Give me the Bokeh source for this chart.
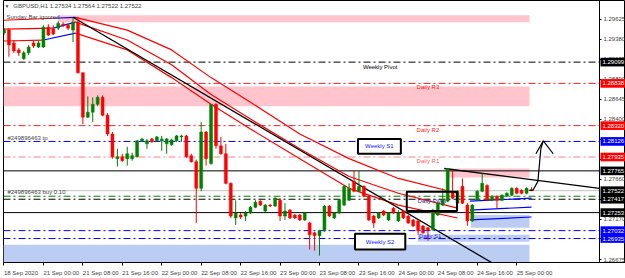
from bokeh.plotting import figure
from bokeh.models import Range1d, FixedTicker, Label, ColumnDataSource, LinearAxis
from bokeh.embed import file_html
from bokeh.resources import INLINE
from bokeh.core.properties import value

# ---------------- data ----------------
opens = [1.29455, 1.29492, 1.29334, 1.29249, 1.29140, 1.29213, 1.29334, 1.29285, 1.29285, 1.29528,
         1.29504, 1.29516, 1.29564, 1.29552, 1.29492, 1.29589, 1.28970, 1.28424, 1.28485, 1.28582,
         1.28667, 1.28448, 1.28218, 1.27915, 1.27939, 1.27915, 1.27915, 1.27939, 1.28133, 1.28097,
         1.28157, 1.28133, 1.28133, 1.28097, 1.28085, 1.28133, 1.28182, 1.28194, 1.27951, 1.27878,
         1.27551, 1.28242, 1.27854, 1.28582, 1.28073, 1.27975, 1.27612, 1.27187, 1.27223, 1.27211,
         1.27248, 1.27320, 1.27393, 1.27272, 1.27345, 1.27333, 1.27405, 1.27211, 1.27284, 1.27223,
         1.27223, 1.27163, 1.27127, 1.27005, 1.26969, 1.27030, 1.27333, 1.27187, 1.27248, 1.27345,
         1.27405, 1.27636, 1.27515, 1.27575, 1.27454, 1.27211, 1.27187, 1.27272, 1.27163, 1.27308,
         1.27151, 1.27272, 1.27211, 1.27163, 1.27151, 1.27090, 1.27066, 1.27042, 1.27223, 1.27345,
         1.27393, 1.27515, 1.27369, 1.27575, 1.27345, 1.27151, 1.27405, 1.27515, 1.27587, 1.27405,
         1.27454, 1.27405, 1.27454, 1.27466, 1.27551, 1.27527, 1.27490, 1.27534]
highs = [1.29516, 1.29516, 1.29370, 1.29273, 1.29237, 1.29310, 1.29358, 1.29358, 1.29552, 1.29564,
         1.29552, 1.29601, 1.29589, 1.29576, 1.29637, 1.29649, 1.28970, 1.28679, 1.28667, 1.28691,
         1.28691, 1.28473, 1.28242, 1.28036, 1.27975, 1.28061, 1.27988, 1.28145, 1.28170, 1.28157,
         1.28170, 1.28194, 1.28194, 1.28170, 1.28157, 1.28206, 1.28206, 1.28206, 1.27975, 1.27903,
         1.28364, 1.28254, 1.28582, 1.28594, 1.28182, 1.28097, 1.27624, 1.27405, 1.27248, 1.27272,
         1.27333, 1.27405, 1.27405, 1.27357, 1.27357, 1.27442, 1.27430, 1.27369, 1.27296, 1.27236,
         1.27236, 1.27260, 1.27139, 1.27017, 1.27042, 1.27345, 1.27345, 1.27260, 1.27418, 1.27587,
         1.27612, 1.27769, 1.27769, 1.27587, 1.27466, 1.27223, 1.27260, 1.27284, 1.27260, 1.27320,
         1.27284, 1.27284, 1.27223, 1.27175, 1.27163, 1.27102, 1.27078, 1.27296, 1.27381, 1.27551,
         1.27794, 1.27769, 1.27527, 1.27672, 1.27369, 1.27357, 1.27527, 1.27733, 1.27600, 1.27466,
         1.27466, 1.27478, 1.27503, 1.27563, 1.27563, 1.27539, 1.27563, 1.27564]
lows = [1.29431, 1.29164, 1.29213, 1.29176, 1.29128, 1.29188, 1.29273, 1.29273, 1.29273, 1.29419,
        1.29431, 1.29492, 1.29528, 1.29492, 1.29346, 1.28958, 1.28339, 1.28412, 1.28364, 1.28558,
        1.28436, 1.28194, 1.27915, 1.27818, 1.27878, 1.27830, 1.27890, 1.27927, 1.28121, 1.28036,
        1.28109, 1.28121, 1.28012, 1.27975, 1.28073, 1.28121, 1.28121, 1.27927, 1.27866, 1.27127,
        1.27515, 1.27830, 1.27842, 1.28036, 1.27963, 1.27600, 1.27187, 1.27102, 1.27175, 1.27151,
        1.27236, 1.27308, 1.27333, 1.27260, 1.27320, 1.27320, 1.27151, 1.27163, 1.27175, 1.27175,
        1.27151, 1.27151, 1.26799, 1.26787, 1.26726, 1.27017, 1.27199, 1.27175, 1.27236, 1.27333,
        1.27393, 1.27503, 1.27503, 1.27442, 1.27151, 1.27066, 1.27175, 1.27211, 1.27151, 1.27236,
        1.27139, 1.27175, 1.27115, 1.27078, 1.26981, 1.26993, 1.26908, 1.27030, 1.27211, 1.27333,
        1.27381, 1.27418, 1.27357, 1.27357, 1.27090, 1.27139, 1.27393, 1.27503, 1.27393, 1.27393,
        1.27308, 1.27393, 1.27442, 1.27454, 1.27478, 1.27478, 1.27478, 1.27522]
closes = [1.29492, 1.29310, 1.29237, 1.29213, 1.29213, 1.29285, 1.29297, 1.29334, 1.29528, 1.29431,
          1.29443, 1.29576, 1.29552, 1.29516, 1.29589, 1.28970, 1.28424, 1.28485, 1.28582, 1.28667,
          1.28448, 1.28218, 1.27939, 1.27939, 1.27890, 1.27975, 1.27951, 1.28133, 1.28157, 1.28133,
          1.28121, 1.28182, 1.28157, 1.28157, 1.28145, 1.28194, 1.28194, 1.27939, 1.27878, 1.27551,
          1.28242, 1.27915, 1.28582, 1.28073, 1.27975, 1.27612, 1.27211, 1.27248, 1.27199, 1.27248,
          1.27320, 1.27381, 1.27345, 1.27345, 1.27333, 1.27430, 1.27211, 1.27272, 1.27187, 1.27187,
          1.27163, 1.27248, 1.26981, 1.26969, 1.27030, 1.27333, 1.27211, 1.27248, 1.27405, 1.27575,
          1.27551, 1.27515, 1.27575, 1.27454, 1.27163, 1.27127, 1.27248, 1.27223, 1.27248, 1.27248,
          1.27248, 1.27187, 1.27127, 1.27090, 1.27030, 1.27005, 1.27042, 1.27284, 1.27369, 1.27405,
          1.27794, 1.27430, 1.27515, 1.27369, 1.27151, 1.27345, 1.27515, 1.27612, 1.27405, 1.27454,
          1.27405, 1.27466, 1.27490, 1.27551, 1.27490, 1.27490, 1.27551, 1.27522]
bars = list(range(len(opens)))

tick_bars = [0, 8, 16, 24, 32, 40, 48, 56, 64, 72, 80, 88, 96, 104]
tick_labels = ["18 Sep 2020", "21 Sep 00:00", "21 Sep 08:00", "21 Sep 16:00", "22 Sep 00:00",
               "22 Sep 08:00", "22 Sep 16:00", "23 Sep 00:00", "23 Sep 08:00", "23 Sep 16:00",
               "24 Sep 00:00", "24 Sep 08:00", "24 Sep 16:00", "25 Sep 00:00"]
price_ticks = [1.29625, 1.29380, 1.29135, 1.28890, 1.28645, 1.28400, 1.28155, 1.27905,
               1.27660, 1.27415, 1.27170, 1.26930, 1.26675]

# channel indicator (upper / middle / lower), vertices at bar indices
upper_bar = [0, 10, 14.5, 25, 34, 42, 50, 60, 70, 80, 92]
upper_val = [1.29613, 1.29637, 1.29649, 1.29492, 1.29249, 1.28909, 1.28606, 1.28218, 1.27915, 1.27672, 1.27490]
middle_bar = [0, 10, 14.5, 25, 34, 42, 50, 60, 70, 80, 92]
middle_val = [1.29504, 1.29516, 1.29589, 1.29370, 1.29067, 1.28703, 1.28400, 1.28036, 1.27696, 1.27490, 1.27308]
lower_bar = [0, 8, 14.5, 25, 34, 42, 50, 60, 70, 80, 92]
lower_val = [1.29358, 1.29370, 1.29455, 1.29249, 1.28909, 1.28582, 1.28279, 1.27915, 1.27551, 1.27345, 1.27187]
blue_bar = [94.5, 107]
blue_upper = [1.27393, 1.27430]
blue_middle = [1.27284, 1.27320]
blue_lower = [1.27163, 1.27199]

# horizontal levels
level_price = [1.29099, 1.28838, 1.28320, 1.28126, 1.27935, 1.27765, 1.27522, 1.27454, 1.27417, 1.27253, 1.27032, 1.26935]
level_color = ["black", "#ff2020", "#ff2020", "#0000ff", "#ff8080", "black", "#c0c0c0", "#008000", "black", "black", "#0000ff", "#0000ff"]
level_dash = ["7 3 2 3", "7 3 2 3", "7 3 2 3", "7 3 2 3", "7 3 2 3", "solid", "solid", "7 3 2 3", "7 3 2 3", "solid", "7 3 2 3", "7 3 2 3"]

tag_price = [1.29099, 1.28838, 1.28320, 1.28126, 1.27935, 1.27765, 1.27522, 1.27417, 1.27253, 1.27032, 1.26935]
tag_color = ["black", "#ff0000", "#ff0000", "#0000ff", "#ff0000", "black", "black", "black", "black", "#0000ff", "#0000ff"]

level_text = ["Weekly Pivot", "Daily R3", "Daily R2", "Daily R1", "Daily S1"]
level_text_bar = [72.8, 83.7, 83.7, 83.7, 84.2]
level_text_price = [1.29043, 1.28788, 1.28266, 1.27890, 1.26969]
level_text_color = ["black", "#ff2020", "#ff2020", "#ff6060", "#2020ff"]

zone_left = [10.9, -0.1, 89.7, 94.7, 84.0, -0.1]
zone_right = [106.6, 106.6, 106.6, 106.6, 106.6, 106.6]
zone_top = [1.29674, 1.28800, 1.27794, 1.27223, 1.26981, 1.26860]
zone_bottom = [1.29589, 1.28558, 1.27684, 1.27066, 1.26896, 1.26641]
zone_color = ["#ffc4cc", "#ffc4cc", "#ffc4cc", "#bccdf3", "#bccdf3", "#bccdf3"]

box_left = [71.8, 81.7, 71.2]
box_right = [80.5, 91.9, 81.4]
box_top = [1.28157, 1.27509, 1.26993]
box_bottom = [1.27975, 1.27272, 1.26799]
box_text = ["Weekly S1", "Daily Pivot", "Weekly S2"]
box_text_color = ["#2020ff", "#303090", "#2020ff"]
box_fill_alpha = [1.0, 0.0, 1.0]

trend1_bar = [14, 99]
trend1_val = [1.29649, 1.26637]
trend2_bar = [89.3, 120.8]
trend2_val = [1.27794, 1.27551]

arrow_bar = [106.5, 107.3, 108.3, 108.9, 109.4]
arrow_val = [1.27527, 1.27527, 1.27636, 1.28036, 1.28133]
head_bar = [107.9, 109.4, 111.4]
head_val = [1.27975, 1.28133, 1.27975]

# ---------------- layout constants ----------------
FONT = "Liberation Sans"
FS = "6px"
X0, X1 = -0.1, 126.07      # full frame width (chart + price scale)
AXIS_X = 120.8             # where the price scale starts
PX_PER_BAR = 4.93
TAG_L, TAG_R, TAG_TX = 121.0, 126.2, 121.4
TAG_H = 0.00053

def text_width(s, size=6.0):
    w = 0.0
    for ch in s:
        if ch.isdigit():
            w += 0.556
        elif ch in " :":
            w += 0.278
        elif ch == "S":
            w += 0.667
        else:
            w += 0.556
    return w * size

p = figure(width=625, height=278, output_backend="svg", toolbar_location=None,
           x_range=Range1d(X0, X1), y_range=Range1d(1.26641, 1.29855),
           x_axis_location=None, y_axis_location=None, min_border_left=3, min_border_right=0,
           min_border_top=0, min_border_bottom=13)
p.grid.visible = False
p.outline_line_color = "black"
p.background_fill_color = "white"
p.border_fill_color = "white"

# zones
p.quad(left=zone_left, right=zone_right, top=zone_top, bottom=zone_bottom,
       fill_color=zone_color, line_color=None, level="underlay")

# horizontal level lines (up to the price scale)
for lp, lc, ld in zip(level_price, level_color, level_dash):
    p.segment(x0=[X0], y0=[lp], x1=[AXIS_X], y1=[lp], line_color=lc, line_dash=ld,
              line_width=1, level="underlay")

# channel lines
def seg(bx, vx, a, b):
    return bx[a:b + 1], vx[a:b + 1]

red_xs, red_ys, blue_xs, blue_ys = [], [], [], []
for bx, vx in [(upper_bar, upper_val), (middle_bar, middle_val), (lower_bar, lower_val)]:
    x0, y0 = seg(bx, vx, 0, 1); red_xs.append(x0); red_ys.append(y0)
    x1, y1 = seg(bx, vx, 1, 2); blue_xs.append(x1); blue_ys.append(y1)
    x2, y2 = seg(bx, vx, 2, len(bx) - 1); red_xs.append(x2); red_ys.append(y2)
for bv in (blue_upper, blue_middle, blue_lower):
    blue_xs.append(blue_bar); blue_ys.append(bv)
p.multi_line(red_xs, red_ys, line_color="#ff0000", line_width=1.2)
p.multi_line(blue_xs, blue_ys, line_color="#0000ff", line_width=1.2)

# trend lines
p.line(trend1_bar, trend1_val, line_color="black", line_width=1.3)
p.line(trend2_bar, trend2_val, line_color="black", line_width=1.3)

# candles
col = ["#008000" if c >= o else "#ff0000" for o, c in zip(opens, closes)]
src = ColumnDataSource(dict(x=bars, o=opens, h=highs, l=lows, c=closes,
                            top=[max(o, c) for o, c in zip(opens, closes)],
                            bot=[min(o, c) for o, c in zip(opens, closes)], col=col))
p.segment(x0="x", y0="l", x1="x", y1="h", source=src, line_color="col", line_width=1)
p.vbar(x="x", width=0.6, top="top", bottom="bot", source=src, fill_color="col",
       line_color="col", line_width=0.5)

# boxes
p.quad(left=box_left, right=box_right, top=box_top, bottom=box_bottom,
       fill_color="white", fill_alpha=box_fill_alpha, line_color="black", line_width=2)
p.text(x=[(l + r) / 2 for l, r in zip(box_left, box_right)],
       y=[(t + b) / 2 for t, b in zip(box_top, box_bottom)], text=box_text,
       text_color=box_text_color, text_font=value(FONT), text_font_size=value(FS),
       text_align="center", text_baseline="middle")

# arrow
p.line(arrow_bar, arrow_val, line_color="black", line_width=1.2)
p.line(head_bar, head_val, line_color="black", line_width=1.2)

# level texts
p.text(x=level_text_bar, y=level_text_price, text=level_text, text_color=level_text_color,
       text_font=value(FONT), text_font_size=value(FS), text_baseline="middle")

# other chart texts
p.add_layout(Label(x=0.1, y=1.29783, text="\u25bc", text_font=FONT, text_font_size="5px", text_baseline="middle"))
p.add_layout(Label(x=1.9, y=1.29783, text="GBPUSD,H1  1.27534 1.27564 1.27522 1.27522",
                   text_font=FONT, text_font_size=FS, text_baseline="middle"))
p.add_layout(Label(x=0.5, y=1.29649, text="Sunday Bar ignored", text_font=FONT, text_font_size=FS,
                   text_baseline="middle"))
p.add_layout(Label(x=0.7, y=1.28169, text="#249896463 tp", text_font=FONT, text_font_size=FS,
                   text_baseline="middle"))
p.add_layout(Label(x=0.7, y=1.27503, text="#249896463 buy 0.10", text_font=FONT, text_font_size=FS,
                   text_baseline="middle"))

# time axis: minor ticks mark the bars, labels start at their tick (MT4 style)
label_pos = [b + text_width(t) / 2 / PX_PER_BAR for b, t in zip(tick_bars, tick_labels)]
xax = LinearAxis(ticker=FixedTicker(ticks=label_pos, minor_ticks=tick_bars),
                 major_label_overrides={lp: t for lp, t in zip(label_pos, tick_labels)},
                 major_label_text_font=FONT, major_label_text_font_size=FS,
                 major_label_standoff=4, major_tick_out=0, major_tick_in=0,
                 minor_tick_out=3, minor_tick_in=0, minor_tick_line_color="black",
                 axis_line_color="black")
p.add_layout(xax, "below")

# price scale: a right axis drawn at the chart's right edge
yax = LinearAxis(ticker=FixedTicker(ticks=price_ticks),
                 major_label_overrides={v: "%.5f" % v for v in price_ticks},
                 major_label_text_font=FONT, major_label_text_font_size=FS,
                 major_label_standoff=2, major_tick_out=2, major_tick_in=0,
                 minor_tick_line_color=None, axis_line_color="black",
                 fixed_location=AXIS_X)
p.add_layout(yax, "right")

# price tags on the scale
tsrc = ColumnDataSource(dict(l=[TAG_L] * len(tag_price), r=[TAG_R] * len(tag_price),
                             t=[v + TAG_H for v in tag_price], b=[v - TAG_H for v in tag_price],
                             y=tag_price, x=[TAG_TX] * len(tag_price),
                             txt=["%.5f" % v for v in tag_price], col=tag_color))
p.quad(left="l", right="r", top="t", bottom="b", source=tsrc, fill_color="col",
       line_color=None, level="overlay")
p.text(x="x", y="y", text="txt", source=tsrc, text_color="white", text_font=value(FONT),
       text_font_size=value(FS), text_baseline="middle", level="overlay")

open("out.html", "w").write(file_html(p, INLINE))
